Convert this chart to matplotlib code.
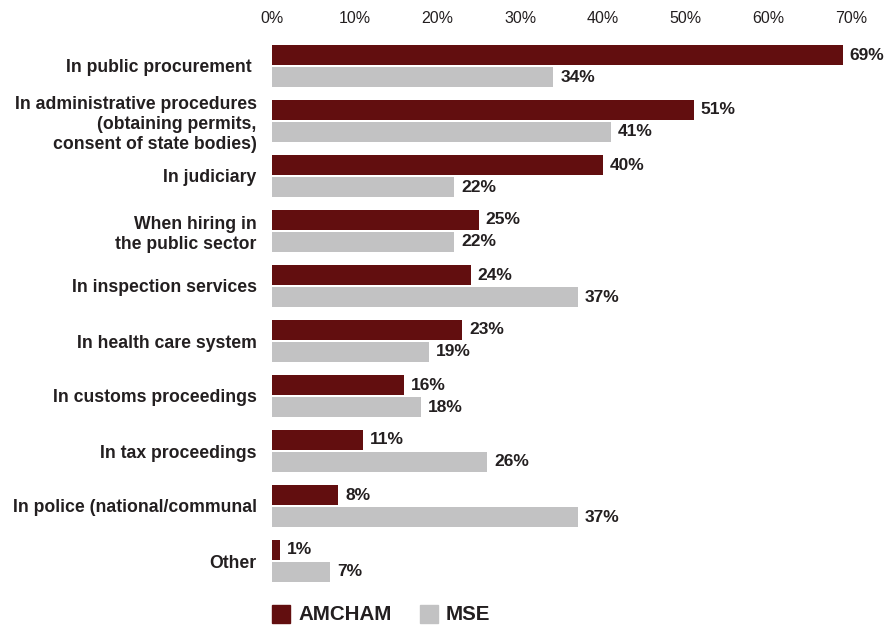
import matplotlib
matplotlib.use("Agg")
import matplotlib.pyplot as plt
from matplotlib.patches import Rectangle

categories = [
    "In public procurement ",
    "In administrative procedures\n(obtaining permits,\nconsent of state bodies)",
    "In judiciary",
    "When hiring in\nthe public sector",
    "In inspection services",
    "In health care system",
    "In customs proceedings",
    "In tax proceedings",
    "In police (national/communal",
    "Other",
]
amcham = [69, 51, 40, 25, 24, 23, 16, 11, 8, 1]
mse = [34, 41, 22, 22, 37, 19, 18, 26, 37, 7]
series_names = ["AMCHAM", "MSE"]
xticks = [0, 10, 20, 30, 40, 50, 60, 70]

RED = "#620e0f"
GRAY = "#c2c2c3"
TXT = "#231f20"
FONT = ["Liberation Sans", "DejaVu Sans"]

W, H = 886, 626
fig = plt.figure(figsize=(W / 100, H / 100), dpi=100)
fig.patch.set_facecolor("white")

# axes placed in pixel terms: x from 272 to 851 (0..70), rows 38.5..588.5
ax = fig.add_axes([272 / W, 1 - 588.5 / H, (851 - 272) / W, 550 / H])
ax.set_xlim(0, 70)
ax.set_ylim(len(categories) - 0.5, -0.5)

pos = list(range(len(categories)))
h = 0.38
ax.barh([p - 0.2 for p in pos], amcham, height=h, color=RED, edgecolor="none")
ax.barh([p + 0.2 for p in pos], mse, height=h, color=GRAY, edgecolor="none")

for p, a, m in zip(pos, amcham, mse):
    for val, y in ((a, p - 0.2), (m, p + 0.2)):
        ax.annotate(f"{val}%", (val, y), xytext=(5, 0), textcoords="offset points",
                    va="center", ha="left", fontsize=12.5, fontweight="bold",
                    family=FONT, color=TXT)

ax.set_yticks(pos)
ax.set_yticklabels(categories, fontsize=12.7, fontweight="bold", family=FONT,
                   color=TXT, linespacing=1.25)
ax.tick_params(axis="y", length=0, pad=11)

ax.xaxis.tick_top()
ax.set_xticks(xticks)
ax.set_xticklabels([f"{t}%" for t in xticks], fontsize=11.5, family=FONT, color=TXT)
ax.tick_params(axis="x", length=0, pad=9)

for s in ax.spines.values():
    s.set_visible(False)

# legend along the bottom
ly = 1 - 614 / H
sq = 18
for x0, name, col in [(272, series_names[0], RED), (420, series_names[1], GRAY)]:
    fig.patches.append(Rectangle((x0 / W, ly - sq / 2 / H), sq / W, sq / H,
                                 transform=fig.transFigure, color=col))
    fig.text((x0 + 26) / W, ly, name, fontsize=14.8, fontweight="bold",
             family=FONT, color=TXT, va="center", ha="left")

fig.savefig("out.png", dpi=100)
